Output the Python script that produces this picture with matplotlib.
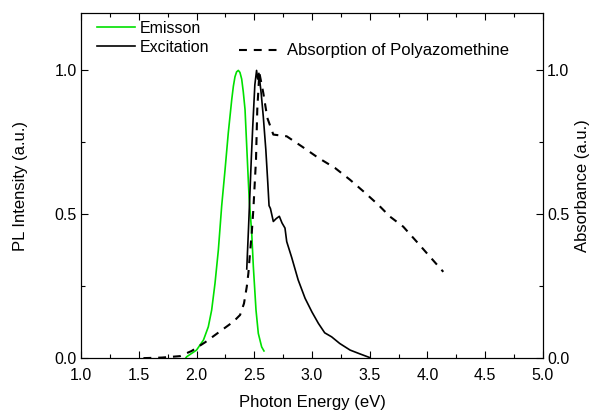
import matplotlib
matplotlib.use("Agg")
import matplotlib.pyplot as plt
from matplotlib.ticker import MultipleLocator

plt.rcParams['font.family'] = ['Liberation Sans', 'DejaVu Sans']

# emission (PL) spectrum
em_x = [1.906, 1.915, 2.0, 2.06, 2.102, 2.131, 2.16, 2.189, 2.218, 2.247, 2.275,
        2.305, 2.319, 2.333, 2.347, 2.362, 2.376, 2.391, 2.405, 2.42, 2.44, 2.455,
        2.478, 2.492, 2.515, 2.535, 2.564, 2.584]
em_y = [0.0, 0.005, 0.028, 0.063, 0.109, 0.167, 0.26, 0.376, 0.53, 0.655, 0.783,
        0.899, 0.945, 0.978, 0.995, 1.0, 0.993, 0.97, 0.925, 0.864, 0.69, 0.56,
        0.434, 0.318, 0.167, 0.086, 0.039, 0.025]

# excitation spectrum
ex_x = [2.435, 2.45, 2.46, 2.475, 2.487, 2.505, 2.52, 2.53, 2.54, 2.56, 2.578,
        2.60, 2.617, 2.628, 2.64, 2.665, 2.69, 2.717, 2.74, 2.766, 2.781, 2.824,
        2.88, 2.94, 3.0, 3.055, 3.11, 3.17, 3.24, 3.33, 3.42, 3.50]
ex_y = [0.31, 0.45, 0.55, 0.70, 0.806, 0.95, 1.0, 0.97, 0.99, 0.92, 0.84,
        0.725, 0.61, 0.53, 0.52, 0.475, 0.485, 0.493, 0.47, 0.452, 0.405, 0.35,
        0.272, 0.208, 0.16, 0.121, 0.088, 0.074, 0.051, 0.028, 0.014, 0.002]

# absorption of polyazomethine
ab_x = [1.54, 1.70, 1.857, 1.958, 2.074, 2.2, 2.32, 2.377, 2.411, 2.435, 2.449,
        2.463, 2.478, 2.492, 2.515, 2.526, 2.544, 2.578, 2.613, 2.665, 2.781,
        2.911, 3.055, 3.199, 3.329, 3.444, 3.574, 3.675, 3.79, 3.906, 4.007, 4.137]
ab_y = [0.0, 0.002, 0.007, 0.025, 0.055, 0.092, 0.127, 0.15, 0.19, 0.248, 0.295,
        0.365, 0.434, 0.516, 0.69, 0.864, 0.992, 0.922, 0.835, 0.777, 0.771,
        0.736, 0.696, 0.661, 0.62, 0.58, 0.533, 0.492, 0.457, 0.405, 0.359, 0.30]

fig = plt.figure(figsize=(5.96, 4.15), dpi=100)
ax = fig.add_axes([0.136, 0.137, 0.775, 0.832])
ax2 = ax.twinx()

ax.plot(em_x, em_y, color='#00e000', lw=1.2, label='Emisson')
ax.plot(ex_x, ex_y, color='black', lw=1.2, label='Excitation')
ax2.plot(ab_x, ab_y, color='black', lw=1.5, linestyle=(0, (3.8, 3.3)),
         label='Absorption of Polyazomethine')

for a in (ax, ax2):
    a.set_xlim(1.0, 5.0)
    a.set_ylim(0, 1.2)
    a.yaxis.set_major_locator(MultipleLocator(0.5))
    a.yaxis.set_minor_locator(MultipleLocator(0.25))
    a.tick_params(which='major', direction='in', length=5, width=0.8,
                  labelsize=11.5, pad=3)
    a.tick_params(which='minor', direction='in', length=3, width=0.8)
    a.yaxis.set_major_formatter(plt.FormatStrFormatter('%.1f'))

ax.xaxis.set_major_locator(MultipleLocator(0.5))
ax.xaxis.set_minor_locator(MultipleLocator(0.25))
ax.xaxis.set_major_formatter(plt.FormatStrFormatter('%.1f'))
ax.tick_params(top=True, which='both')
ax.tick_params(axis='x', which='major', pad=7)

ax.set_xlabel('Photon Energy (eV)', fontsize=12, labelpad=9)
ax.set_ylabel('PL Intensity (a.u.)', fontsize=12, labelpad=19)
ax2.set_ylabel('Absorbance (a.u.)', fontsize=12, labelpad=4)

ax.legend(loc='upper left', bbox_to_anchor=(0.01, 1.01), frameon=False,
          fontsize=11.5, handlelength=2.4, handletextpad=0.3, labelspacing=0.25,
          borderaxespad=0.3)
ax2.legend(loc='upper left', bbox_to_anchor=(0.31, 0.955), frameon=False,
           fontsize=12, handlelength=2.6, handletextpad=0.25)

fig.savefig('out.png', dpi=100)
